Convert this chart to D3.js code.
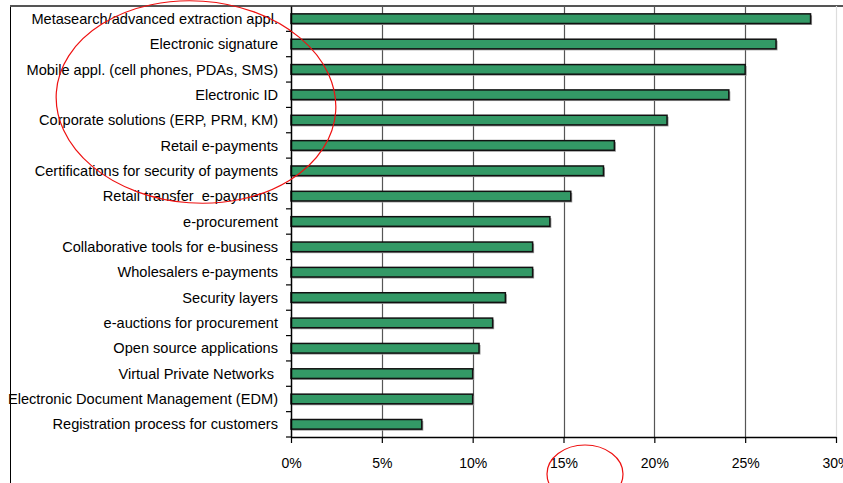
<!DOCTYPE html>
<html>
<head>
<meta charset="utf-8">
<script src="https://cdn.jsdelivr.net/npm/d3@7/dist/d3.min.js"></script>
<style>
  html, body { margin: 0; padding: 0; background: #fff; }
  svg { display: block; }
  text { font-family: "Liberation Sans", Arial, sans-serif; fill: #000; white-space: pre; }
</style>
</head>
<body>
<svg id="chart" width="843" height="483"></svg>
<script>
// Applications, top to bottom
const categories = [
  "Metasearch/advanced extraction appl.",
  "Electronic signature",
  "Mobile appl. (cell phones, PDAs, SMS)",
  "Electronic ID",
  "Corporate solutions (ERP, PRM, KM)",
  "Retail e-payments",
  "Certifications for security of payments",
  "Retail transfer  e-payments",
  "e-procurement",
  "Collaborative tools for e-business",
  "Wholesalers e-payments",
  "Security layers",
  "e-auctions for procurement",
  "Open source applications",
  "Virtual Private Networks ",
  "Electronic Document Management (EDM)",
  "Registration process for customers"
];
// Share of respondents (%)
const values = [28.6, 26.7, 25.0, 24.1, 20.7, 17.8, 17.2, 15.4, 14.25, 13.3, 13.3, 11.8, 11.1, 10.35, 10.0, 10.0, 7.2];
const xTicks = [0, 5, 10, 15, 20, 25, 30];

const svg = d3.select("#chart");
const W = 843, H = 483;
const plot = { left: 291, right: 836, top: 6, bottom: 437 };

const x = d3.scaleLinear().domain([0, 30]).range([plot.left, plot.right]);
const y = d3.scaleBand().domain(categories).range([plot.top, plot.bottom]).paddingInner(0.62).paddingOuter(0.31);

// outer frame: left edge and top rule
svg.append("line").attr("x1", 10.5).attr("x2", 10.5).attr("y1", 5).attr("y2", H)
  .attr("stroke", "#000").attr("stroke-width", 1);
svg.append("line").attr("x1", 10).attr("x2", W).attr("y1", 6).attr("y2", 6)
  .attr("stroke", "#555").attr("stroke-width", 2);

// vertical gridlines
svg.append("g").selectAll("line").data(xTicks.filter(d => d > 0)).join("line")
  .attr("x1", d => Math.round(x(d)) + 0.5).attr("x2", d => Math.round(x(d)) + 0.5)
  .attr("y1", plot.top).attr("y2", plot.bottom)
  .attr("stroke", d => d === 30 ? "#ddd" : "#555").attr("stroke-width", 1.2);

// bars with a soft drop shadow
const bars = svg.append("g");
bars.selectAll("rect.shadow").data(categories).join("rect")
  .attr("class", "shadow")
  .attr("x", x(0) + 1.5)
  .attr("y", d => y(d) + 1.5)
  .attr("width", (d, i) => x(values[i]) - x(0))
  .attr("height", y.bandwidth())
  .attr("fill", "#999");
bars.selectAll("rect.bar").data(categories).join("rect")
  .attr("class", "bar")
  .attr("x", x(0))
  .attr("y", d => y(d))
  .attr("width", (d, i) => x(values[i]) - x(0))
  .attr("height", y.bandwidth())
  .attr("fill", "#339966")
  .attr("stroke", "#111")
  .attr("stroke-width", 1.5);

// category axis
const yAxis = d3.axisLeft(y).tickSize(0).tickPadding(13);
const gy = svg.append("g").attr("transform", `translate(${plot.left},0)`).call(yAxis);
gy.select(".domain").attr("stroke", "#000").attr("stroke-width", 1.5);
gy.selectAll("text").attr("font-size", 14.6).attr("dy", "0.35em");
// category boundary ticks
const bounds = d3.range(categories.length + 1).map(i => plot.top + i * (plot.bottom - plot.top) / categories.length);
svg.append("g").selectAll("line").data(bounds.slice(1)).join("line")
  .attr("x1", plot.left - 5).attr("x2", plot.left)
  .attr("y1", d => d).attr("y2", d => d)
  .attr("stroke", "#000").attr("stroke-width", 1.2);

// value axis
const xAxis = d3.axisBottom(x).tickValues(xTicks).tickFormat(d => d + "%").tickSize(6).tickSizeOuter(0).tickPadding(15);
const gx = svg.append("g").attr("transform", `translate(0,${plot.bottom})`).call(xAxis);
gx.select(".domain").attr("stroke", "#000").attr("stroke-width", 1.5);
gx.selectAll(".tick line").attr("stroke", "#000").attr("stroke-width", 1.2);
gx.selectAll("text").attr("font-size", 14);

// red hand-drawn highlight ellipses
svg.append("ellipse").attr("cx", 196).attr("cy", 102).attr("rx", 140).attr("ry", 101)
  .attr("transform", "rotate(4 196 102)")
  .attr("fill", "none").attr("stroke", "#e11").attr("stroke-width", 1.2);
svg.append("ellipse").attr("cx", 585).attr("cy", 474).attr("rx", 38).attr("ry", 29)
  .attr("fill", "none").attr("stroke", "#e11").attr("stroke-width", 1.2);
</script>
</body>
</html>
